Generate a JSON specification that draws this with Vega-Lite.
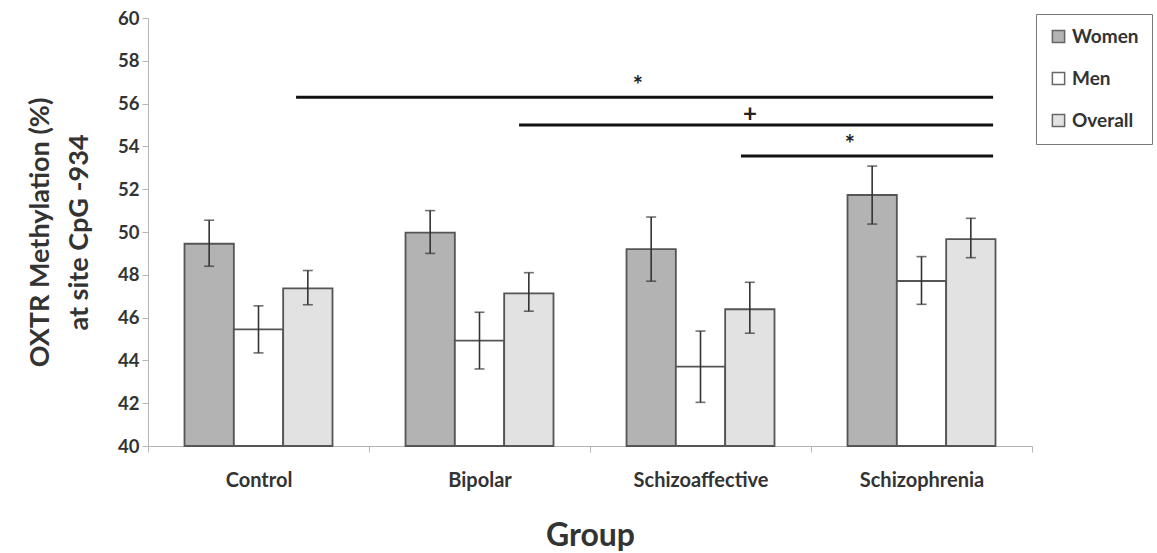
{
  "$schema": "https://vega.github.io/schema/vega-lite/v6.json",
  "autosize": {"type": "none"},
  "width": 884,
  "height": 428,
  "padding": {"left": 148, "top": 18, "right": 125, "bottom": 107},
  "background": "white",
  "config": {
    "view": {"stroke": null},
    "font": "Lato",
    "axis": {"labelFont": "Lato", "titleFont": "Lato", "labelFontWeight": "bold", "titleFontWeight": "bold", "labelColor": "#333", "titleColor": "#333", "domainColor": "#b5b5b5", "tickColor": "#b5b5b5", "grid": false},
    "legend": {"labelFont": "Lato"}
  },
  "datasets": {
    "bars": [
      {"Group": "Control", "Sex": "Women", "value": 49.45, "lo": 48.4, "hi": 50.55},
      {"Group": "Control", "Sex": "Men", "value": 45.45, "lo": 44.35, "hi": 46.55},
      {"Group": "Control", "Sex": "Overall", "value": 47.37, "lo": 46.6, "hi": 48.2},
      {"Group": "Bipolar", "Sex": "Women", "value": 49.97, "lo": 49.0, "hi": 51.0},
      {"Group": "Bipolar", "Sex": "Men", "value": 44.92, "lo": 43.6, "hi": 46.25},
      {"Group": "Bipolar", "Sex": "Overall", "value": 47.13, "lo": 46.3, "hi": 48.1},
      {"Group": "Schizoaffective", "Sex": "Women", "value": 49.2, "lo": 47.7, "hi": 50.7},
      {"Group": "Schizoaffective", "Sex": "Men", "value": 43.71, "lo": 42.04, "hi": 45.37},
      {"Group": "Schizoaffective", "Sex": "Overall", "value": 46.39, "lo": 45.27, "hi": 47.65},
      {"Group": "Schizophrenia", "Sex": "Women", "value": 51.73, "lo": 50.37, "hi": 53.08},
      {"Group": "Schizophrenia", "Sex": "Men", "value": 47.71, "lo": 46.62, "hi": 48.85},
      {"Group": "Schizophrenia", "Sex": "Overall", "value": 49.67, "lo": 48.8, "hi": 50.64}
    ],
    "sig": [
      {"from": 0.67, "to": 3.824, "level": 56.3, "mid": 2.217, "label": "*"},
      {"from": 1.679, "to": 3.824, "level": 55.0, "mid": 2.724, "label": "+"},
      {"from": 2.683, "to": 3.824, "level": 53.55, "mid": 3.176, "label": "*"}
    ]
  },
  "resolve": {"scale": {"x": "independent"}},
  "layer": [
    {
      "data": {"name": "bars"},
      "encoding": {
        "x": {
          "field": "Group", "type": "nominal", "sort": ["Control", "Bipolar", "Schizoaffective", "Schizophrenia"],
          "scale": {"paddingInner": 0, "paddingOuter": 0},
          "axis": {"title": "Group", "labelAngle": 0, "labelFontSize": 20, "titleFontSize": 32, "tickSize": 6, "tickBand": "extent", "labelPadding": 18, "titlePadding": 30}
        },
        "xOffset": {
          "field": "Sex", "type": "nominal", "sort": ["Women", "Men", "Overall"],
          "scale": {"paddingInner": 0, "paddingOuter": 0.74}
        }
      },
      "layer": [
        {
          "mark": {"type": "bar", "stroke": "#555", "strokeWidth": 1.8},
          "encoding": {
            "y": {
              "field": "value", "type": "quantitative",
              "scale": {"domain": [40, 60], "zero": false, "nice": false},
              "axis": {"title": ["OXTR Methylation (%)", "at site CpG -934"], "values": [40, 42, 44, 46, 48, 50, 52, 54, 56, 58, 60], "labelFontSize": 18.5, "titleFontSize": 27, "tickSize": 6, "labelPadding": 3, "titlePadding": 24, "titleLineHeight": 39}
            },
            "y2": {"datum": 40},
            "fill": {
              "field": "Sex", "type": "nominal", "sort": ["Women", "Men", "Overall"],
              "scale": {"domain": ["Women", "Men", "Overall"], "range": ["#b3b3b3", "#ffffff", "#e2e2e2"]},
              "legend": {
                "title": null, "orient": "none", "legendX": 888, "legendY": -4,
                "strokeColor": "#777", "padding": 13, "rowPadding": 22,
                "symbolType": "square", "symbolSize": 150, "symbolStrokeColor": "#666", "symbolStrokeWidth": 1.5,
                "labelFontSize": 19, "labelFontWeight": "bold", "labelColor": "#333", "labelOffset": 4
              }
            }
          }
        },
        {
          "mark": {"type": "rule", "color": "#333", "strokeWidth": 1.6},
          "encoding": {
            "y": {"field": "lo", "type": "quantitative"},
            "y2": {"field": "hi"}
          }
        },
        {
          "mark": {"type": "tick", "color": "#333", "thickness": 1.6, "size": 10},
          "encoding": {"y": {"field": "lo", "type": "quantitative"}}
        },
        {
          "mark": {"type": "tick", "color": "#333", "thickness": 1.6, "size": 10},
          "encoding": {"y": {"field": "hi", "type": "quantitative"}}
        }
      ]
    },
    {
      "data": {"name": "sig"},
      "layer": [
        {
          "mark": {"type": "rule", "color": "#111", "strokeWidth": 3},
          "encoding": {
            "x": {"field": "from", "type": "quantitative", "scale": {"domain": [0, 4], "nice": false, "zero": false}, "axis": null},
            "x2": {"field": "to"},
            "y": {"field": "level", "type": "quantitative"}
          }
        },
        {
          "mark": {"type": "text", "fontSize": 24, "fontWeight": "bold", "color": "#222", "baseline": "bottom", "dy": 2},
          "encoding": {
            "x": {"field": "mid", "type": "quantitative", "scale": {"domain": [0, 4], "nice": false, "zero": false}, "axis": null},
            "y": {"field": "level", "type": "quantitative"},
            "text": {"field": "label"}
          }
        }
      ]
    }
  ]
}
